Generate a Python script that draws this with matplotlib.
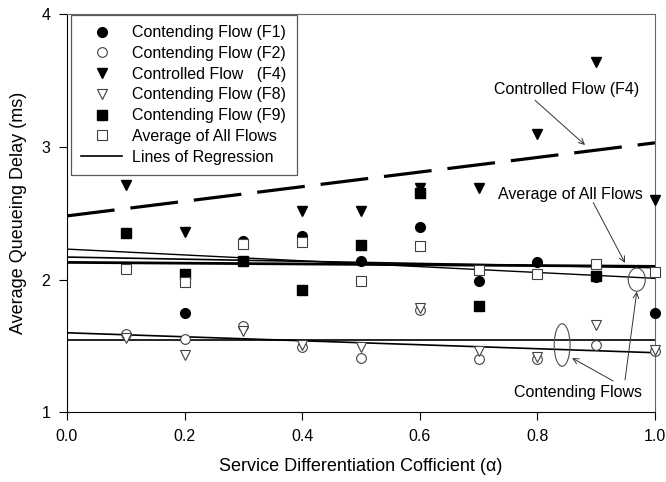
import numpy as np
import matplotlib
matplotlib.use('Agg')
import matplotlib.pyplot as plt
from matplotlib.patches import Ellipse

plt.rcParams['font.family'] = ['Liberation Sans', 'DejaVu Sans']

# service differentiation coefficient
alpha = [0.1, 0.2, 0.3, 0.4, 0.5, 0.6, 0.7, 0.8, 0.9, 1.0]

# average queueing delay (ms) per flow, nan where no point is visible
f1 = [np.nan, 1.75, 2.29, 2.33, 2.14, 2.40, 1.99, 2.13, 2.02, 1.75]
f2 = [1.59, 1.55, 1.65, 1.49, 1.41, 1.77, 1.40, 1.40, 1.51, 1.46]
f4 = [2.71, 2.36, np.nan, 2.52, 2.52, 2.69, 2.69, 3.10, 3.64, 2.60]
f8 = [1.56, 1.43, 1.61, 1.51, 1.49, 1.79, 1.46, 1.42, 1.66, 1.47]
f9 = [2.35, 2.04, 2.14, 1.92, 2.26, 2.65, 1.80, np.nan, 2.03, np.nan]
avg = [2.08, 1.98, 2.27, 2.28, 1.99, 2.25, 2.07, 2.04, 2.12, 2.06]

# regression lines, value at alpha=0 and alpha=1
reg_x = [0.0, 1.0]
reg_f4 = [2.48, 3.03]
reg_top = [[2.23, 2.01], [2.17, 2.09], [2.13, 2.10]]
reg_low = [[1.60, 1.45], [1.545, 1.545]]

fig = plt.figure(figsize=(6.66, 4.82), dpi=100)
ax = fig.add_axes([0.1006, 0.1442, 0.8829, 0.8268])

# regression lines first so markers sit on top
ax.plot(reg_x, reg_f4, color='black', lw=2.3, linestyle=(0, (15, 5)), zorder=2)
lw_top = [1.0, 1.2, 2.0]
for r, w in zip(reg_top, lw_top):
    ax.plot(reg_x, r, color='black', lw=w, zorder=2)
for r in reg_low:
    ax.plot(reg_x, r, color='black', lw=1.2, zorder=2)

kw = dict(ls='none', clip_on=False)
ax.plot(alpha, f4, 'v', color='black', ms=7.8, label='Controlled Flow   (F4)', zorder=3, **kw)
ax.plot(alpha, f9, 's', color='black', ms=6.8, label='Contending Flow (F9)', zorder=4, **kw)
ax.plot(alpha, f1, 'o', color='black', ms=7.0, label='Contending Flow (F1)', zorder=5, **kw)
ax.plot(alpha, f2, 'o', mfc='white', mec='0.25', mew=0.8, ms=7.0, label='Contending Flow (F2)', zorder=5, **kw)
ax.plot(alpha, f8, 'v', mfc='white', mec='0.25', mew=0.8, ms=7.8, label='Contending Flow (F8)', zorder=6, **kw)
ax.plot(alpha, avg, 's', mfc='white', mec='0.25', mew=0.8, ms=6.8, label='Average of All Flows', zorder=7, **kw)

# legend in the order of the original
h, l = ax.get_legend_handles_labels()
order = [2, 3, 0, 4, 1, 5]
handles = [h[i] for i in order]
labels = [l[i] for i in order]
line_handle, = ax.plot([], [], color='black', lw=1.2)
handles.append(line_handle)
labels.append('Lines of Regression')
leg = ax.legend(handles, labels, loc='upper left', bbox_to_anchor=(0.006, 0.998),
                fontsize=11.5, numpoints=1, handlelength=2.6, handletextpad=0.6,
                labelspacing=0.36, borderpad=0.65, fancybox=False, framealpha=1,
                edgecolor='0.35', borderaxespad=0.0)
leg.get_frame().set_linewidth(0.9)
leg.set_zorder(10)

# annotations
arrow = dict(arrowstyle='->', color='0.2', lw=0.7, shrinkA=0, shrinkB=0)
ax.text(0.85, 3.43, 'Controlled Flow (F4)', fontsize=11.5, ha='center', va='center')
ax.annotate('', xy=(0.881, 3.014), xytext=(0.796, 3.35), arrowprops=arrow)
ax.text(0.857, 2.64, 'Average of All Flows', fontsize=11.5, ha='center', va='center')
ax.annotate('', xy=(0.949, 2.126), xytext=(0.895, 2.58), arrowprops=arrow)
ax.text(0.869, 1.147, 'Contending Flows', fontsize=11.5, ha='center', va='center')
ax.annotate('', xy=(0.859, 1.41), xytext=(0.929, 1.237), arrowprops=arrow)
ax.annotate('', xy=(0.969, 1.91), xytext=(0.949, 1.245), arrowprops=arrow)
ax.add_patch(Ellipse((0.842, 1.508), 0.027, 0.32, fill=False, ec='0.3', lw=0.8, zorder=8))
ax.add_patch(Ellipse((0.969, 2.0), 0.029, 0.175, fill=False, ec='0.3', lw=0.8, zorder=8))

ax.set_xlim(0, 1)
ax.set_ylim(1, 4)
ax.set_xticks([0.0, 0.2, 0.4, 0.6, 0.8, 1.0])
ax.set_xticklabels(['0.0', '0.2', '0.4', '0.6', '0.8', '1.0'])
ax.set_yticks([1, 2, 3, 4])
ax.tick_params(direction='out', length=6, width=0.8, labelsize=11.5, pad=6)
ax.set_xlabel('Service Differentiation Cofficient (\u03b1)', fontsize=13, labelpad=10)
ax.set_ylabel('Average Queueing Delay (ms)', fontsize=13, labelpad=10)
for s in ['top', 'right']:
    ax.spines[s].set_color('0.4')
for s in ['left', 'bottom']:
    ax.spines[s].set_color('black')

fig.savefig('out.png', dpi=100)
